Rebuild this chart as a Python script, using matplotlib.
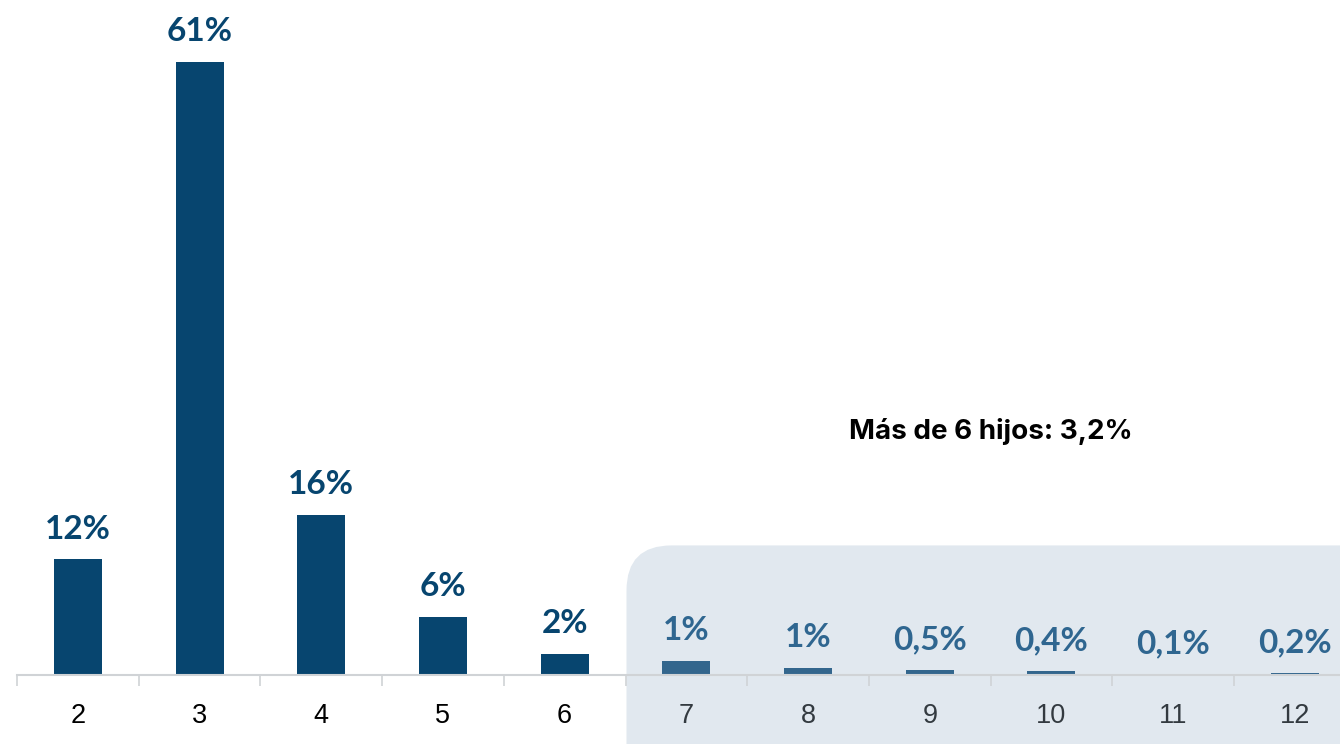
import matplotlib
matplotlib.use("Agg")
import matplotlib.pyplot as plt
from matplotlib.patches import FancyBboxPatch

# ---------------------------------------------------------------------------
# Data
# ---------------------------------------------------------------------------
categories = ["2", "3", "4", "5", "6", "7", "8", "9", "10", "11", "12"]
values     = [11.5, 61.0, 15.9, 5.8, 2.1, 1.4, 0.7, 0.45, 0.35, 0.1, 0.2]
labels     = ["12%", "61%", "16%", "6%", "2%", "1%", "1%",
              "0,5%", "0,4%", "0,1%", "0,2%"]
n_main     = 5          # first five categories are the "main" group
note_text  = "Más de 6 hijos: 3,2%"

MAIN_COL   = "#07456F"
SOFT_COL   = "#33668D"
SOFT_LBL   = "#2F6690"
BOX_COL    = "#E1E8EF"
AXIS_COL   = "#D0D3D6"

# ---------------------------------------------------------------------------
# Figure
# ---------------------------------------------------------------------------
W, H = 1340, 744
fig = plt.figure(figsize=(W / 100, H / 100), dpi=100)
fig.patch.set_facecolor("white")

step = 121.7
ax = fig.add_axes([17 / W, 69 / H, 11 * step / W, 663 / H])
ax.patch.set_visible(False)

x = list(range(len(categories)))
cols = [MAIN_COL if i < n_main else SOFT_COL for i in x]
ax.bar(x, values, width=0.395, color=cols, linewidth=0, zorder=3)

ax.set_xlim(-0.5, len(categories) - 0.5)
ax.set_ylim(0, 66)

for i, (v, lab) in enumerate(zip(values, labels)):
    ax.annotate(lab, (i, v), xytext=(0, 11.5), textcoords="offset points",
                ha="center", va="bottom", fontsize=24, fontweight="bold",
                family="Lato",
                color=MAIN_COL if i < n_main else SOFT_LBL, zorder=4)

# axis styling
for s in ["top", "right", "left"]:
    ax.spines[s].set_visible(False)
ax.spines["bottom"].set_color(AXIS_COL)
ax.spines["bottom"].set_linewidth(1.5)
ax.spines["bottom"].set_zorder(5)
ax.set_yticks([])
ax.set_xticks([i - 0.5 for i in range(len(categories) + 1)], minor=False)
ax.set_xticklabels([])
ax.tick_params(axis="x", which="major", length=8, width=1.2, color=AXIS_COL)
ax.set_xticks(x, minor=True)
ax.set_xticklabels(categories, minor=True)
ax.tick_params(axis="x", which="minor", length=0, pad=20, labelsize=19.5)
for i, t in enumerate(ax.get_xticklabels(minor=True)):
    t.set_family("Liberation Sans")
    t.set_color("black" if i < n_main else "#333A40")

# shaded box behind categories 7-12
x0, y0 = ax.transData.transform((n_main - 0.5, 12.9))
box = FancyBboxPatch((x0 + 1, -60), W - x0 + 60, y0 + 60,
                     boxstyle="round,pad=0,rounding_size=45",
                     transform=None, facecolor=BOX_COL, edgecolor="none",
                     zorder=-1)
fig.add_artist(box)

ax.text(7.5, 24.2, note_text, ha="center", va="center", fontsize=20,
        fontweight="bold", family="Inter", color="black")

fig.savefig("out.png", dpi=100)
plt.close(fig)
